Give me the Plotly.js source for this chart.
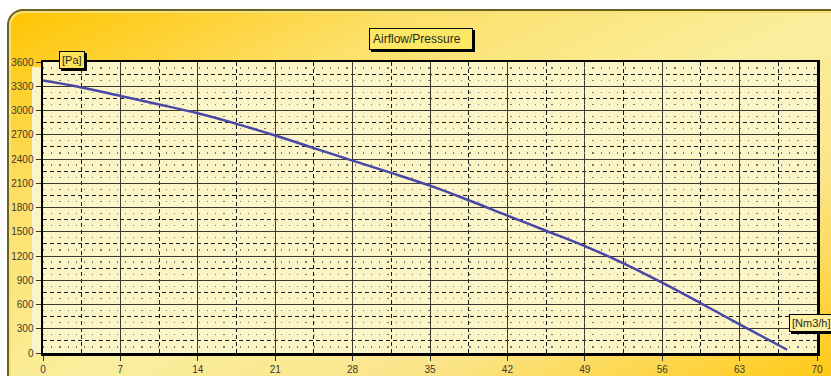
<!DOCTYPE html>
<html>
<head>
<meta charset="utf-8">
<script src="https://cdn.plot.ly/plotly-3.0.1.min.js"></script>
<style>
  html, body { margin: 0; padding: 0; background: #ffffff; width: 831px; height: 376px; overflow: hidden; }
  #frame { position: absolute; left: 7px; top: 9px; width: 840px; height: 400px; box-sizing: border-box;
    border: 2px solid #6f6120; border-radius: 16px;
    box-shadow: inset 1px 1px 0 1px #f3e27a;
    background: linear-gradient(to bottom right, #ffc400 0%, #fde06a 25%, #faee9e 50%, #fbe58a 70%, #ffc400 100%); }
  #strip { position: absolute; left: 32px; top: 67px; width: 11px; height: 286px; background: #fbf4c8; }
  #chart { position: absolute; left: 0; top: 0; width: 831px; height: 376px; }
  #chart .annotation rect.bg { filter: drop-shadow(2px 2px 0 #000); }
</style>
</head>
<body>
<div id="frame"></div>
<div id="strip"></div>
<div id="chart"></div>
<script>
// Airflow [Nm3/h]
const airflow = [0, 3.5, 7, 10.5, 14, 17.5, 21, 24.5, 28, 31.5, 35, 38.5, 42, 45.5, 49, 52.5, 56, 59.5, 63, 67.3];
// Pressure [Pa]
const pressure = [3370, 3285, 3180, 3075, 2965, 2835, 2690, 2535, 2380, 2228, 2070, 1890, 1700, 1512, 1322, 1110, 870, 615, 355, 40];

const chartTitle = 'Airflow/Pressure';
const yUnit = '[Pa]';
const xUnit = '[Nm3/h]';

const tickFont = { family: 'Liberation Sans, Arial, sans-serif', size: 10, color: '#3c3a30' };

const traces = [
  {
    x: airflow, y: pressure, type: 'scatter', mode: 'lines',
    line: { color: '#4a48a6', width: 2.5, shape: 'spline', smoothing: 1 },
    hoverinfo: 'x+y', showlegend: false
  },
  {
    x: airflow, y: pressure, type: 'scatter', mode: 'lines', yaxis: 'y2',
    line: { width: 0, color: 'rgba(0,0,0,0)' }, hoverinfo: 'skip', showlegend: false
  }
];

function labelBox(text, x, y, size, bg, width, pad) {
  const a = { xref: 'paper', yref: 'paper', x: x, y: y, xanchor: 'center', yanchor: 'middle',
    text: text, showarrow: false,
    font: { family: 'Liberation Sans, Arial, sans-serif', size: size, color: '#2a2a1a' },
    bgcolor: bg, bordercolor: '#000', borderwidth: 1, borderpad: pad || 2 };
  if (width) { a.width = width; a.align = 'left'; }
  return a;
}

const layout = {
  width: 831, height: 376,
  margin: { l: 43, r: 14, t: 62, b: 23 },
  paper_bgcolor: 'rgba(0,0,0,0)',
  plot_bgcolor: '#fbf5c8',
  showlegend: false,
  xaxis: {
    range: [0, 70], dtick: 7, tick0: 0,
    showgrid: true, gridcolor: '#3a3a32', gridwidth: 1,
    minor: { dtick: 3.5, showgrid: true, gridcolor: '#1a1a1a', gridwidth: 1, griddash: '4px,3px' },
    zeroline: false,
    showline: true, linecolor: '#000', linewidth: 2.5, mirror: true,
    ticks: 'outside', ticklen: 5, tickcolor: '#333', tickwidth: 1,
    tickfont: tickFont, fixedrange: true
  },
  yaxis: {
    range: [0, 3600], dtick: 300, tick0: 0,
    showgrid: true, gridcolor: '#3a3a32', gridwidth: 1,
    minor: { dtick: 150, showgrid: true, gridcolor: '#1a1a1a', gridwidth: 1, griddash: '4px,3px' },
    zeroline: false,
    showline: true, linecolor: '#000', linewidth: 2.5, mirror: true,
    ticks: 'outside', ticklen: 5, tickcolor: '#333', tickwidth: 1,
    tickfont: tickFont, fixedrange: true
  },
  yaxis2: {
    overlaying: 'y', range: [0, 3600], tick0: 75, dtick: 150,
    showgrid: true, gridcolor: '#77776a', gridwidth: 1.2, griddash: '1.2px,7px',
    showticklabels: false, ticks: '', zeroline: false, showline: false, fixedrange: true
  },
  annotations: [
    labelBox(chartTitle, 0.4884, 1.079, 12, '#fde866', 96, 3),
    labelBox(yUnit, 0.0375, 1.007, 11, '#fde25a'),
    labelBox(xUnit, 0.993, 0.103, 11, '#fdf0a0')
  ]
};

Plotly.newPlot('chart', traces, layout, { displayModeBar: false, staticPlot: true });
</script>
</body>
</html>
